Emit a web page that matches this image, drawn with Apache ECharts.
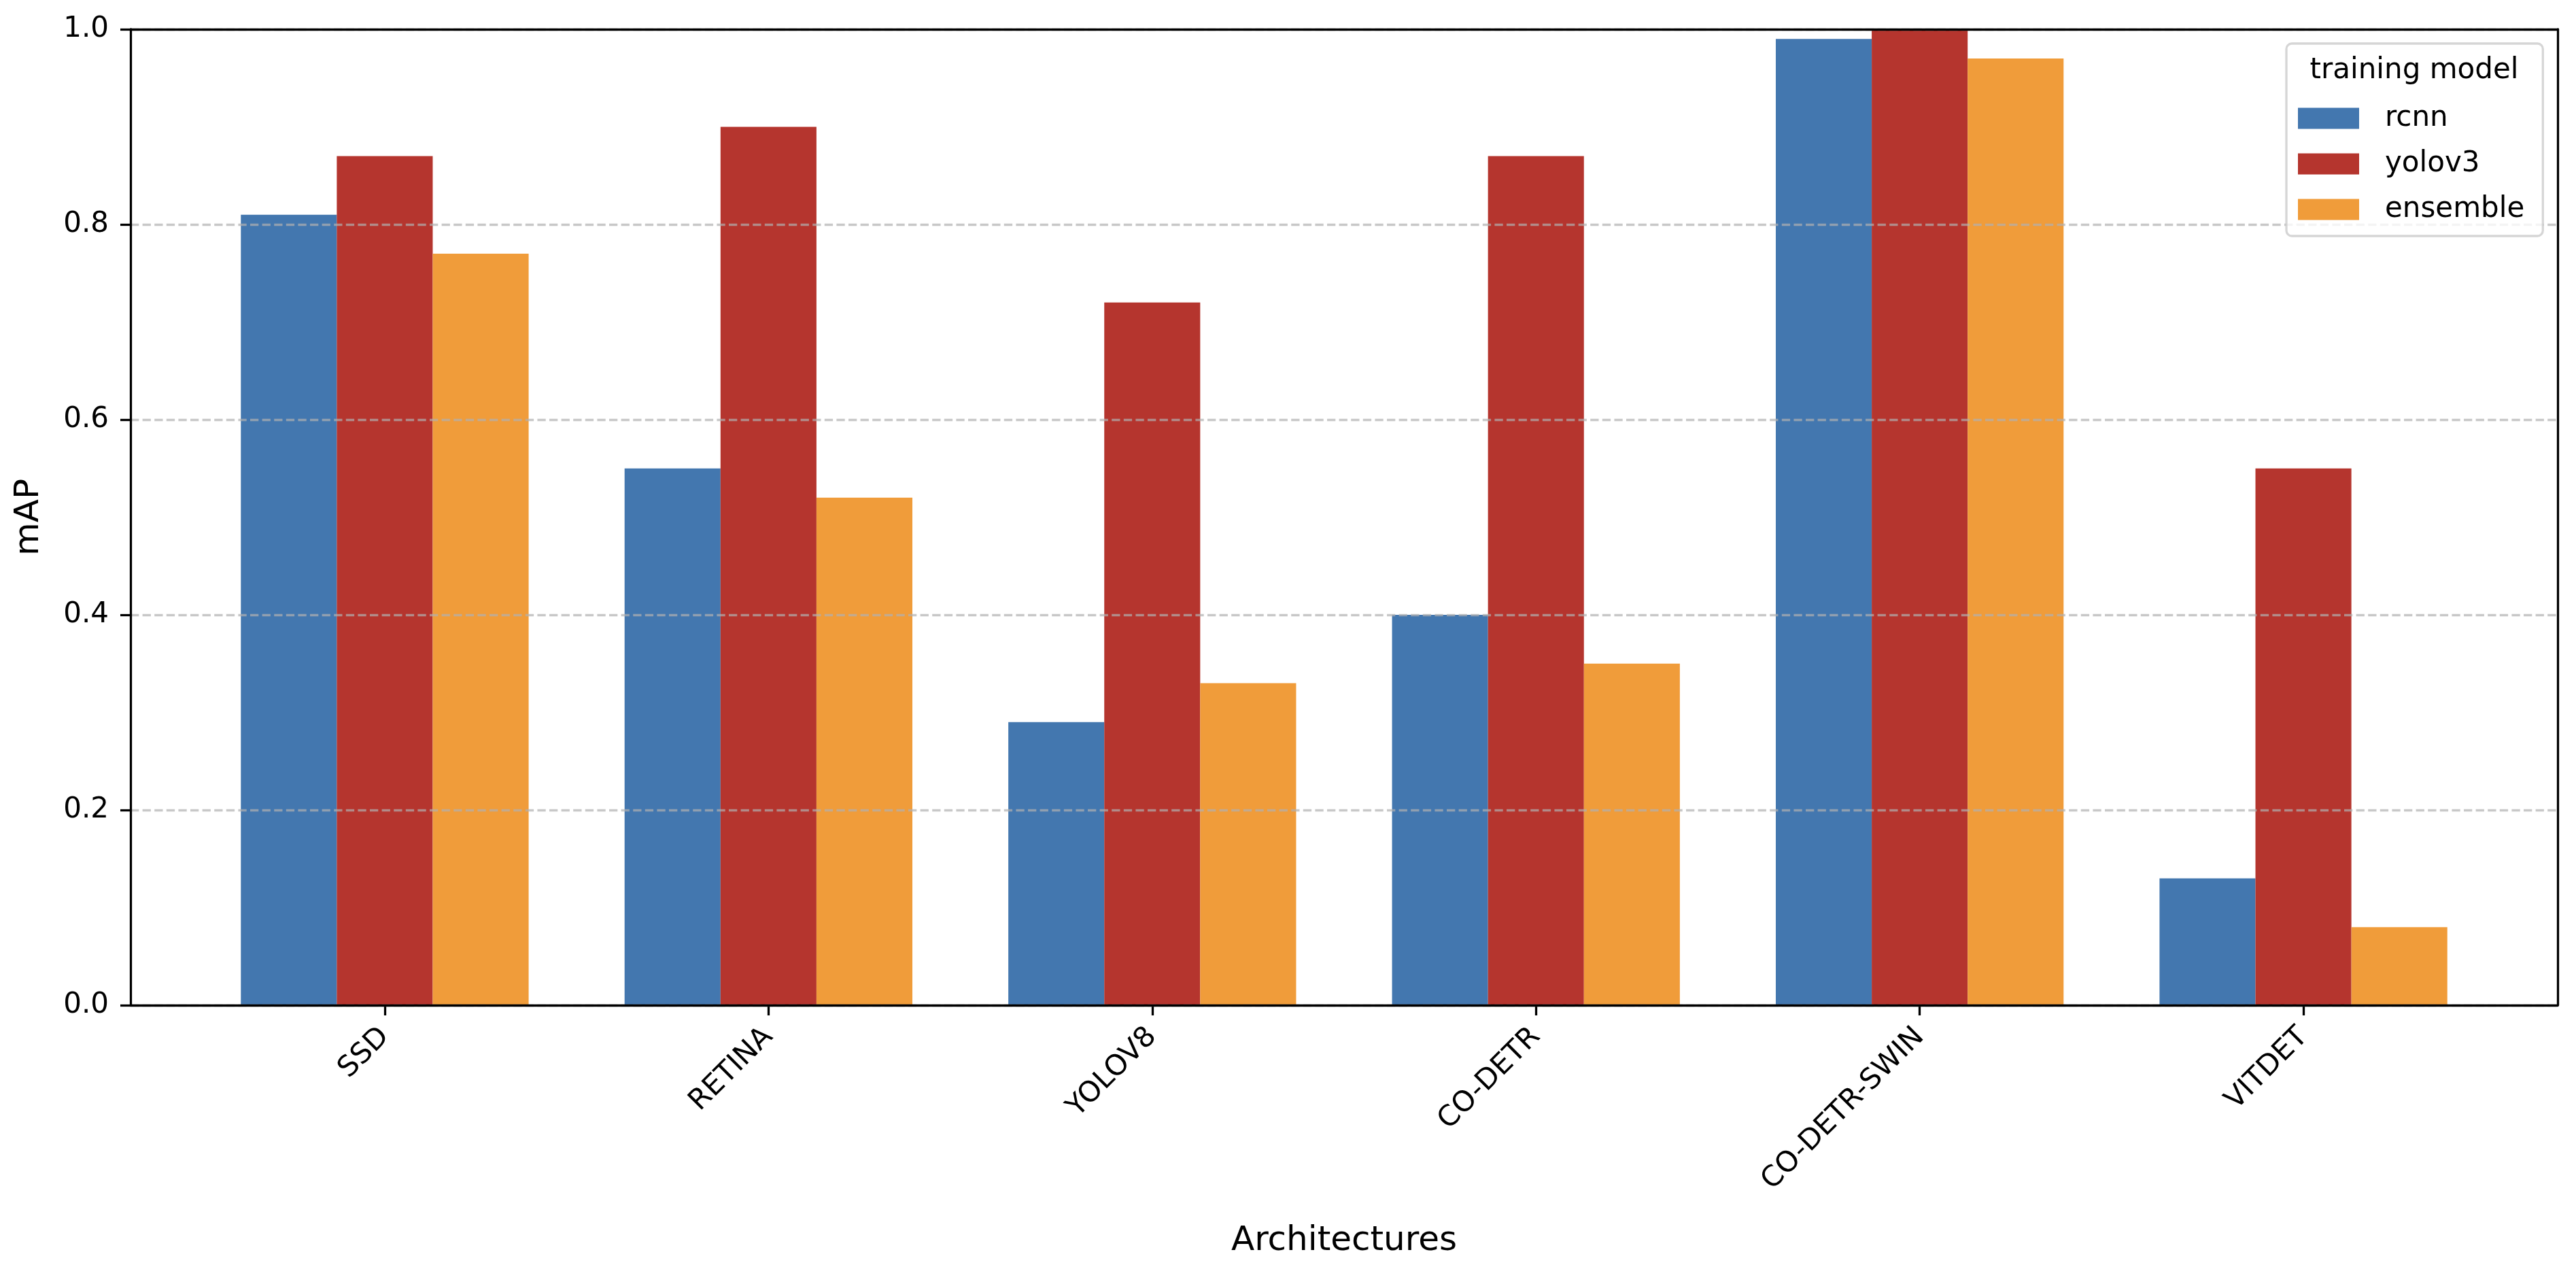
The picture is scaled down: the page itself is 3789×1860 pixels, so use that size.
<!DOCTYPE html>
<html><head><meta charset="utf-8">
<script src="https://cdn.jsdelivr.net/npm/echarts@6/dist/echarts.min.js"></script>
<style>html,body{margin:0;padding:0;background:#fff}#c{width:3789px;height:1860px}</style>
</head><body><div id="c"></div>
<script>
// ---- data ----
const categories = ['SSD', 'RETINA', 'YOLOV8', 'CO-DETR', 'CO-DETR-SWIN', 'VITDET'];
const rcnn = [0.81, 0.55, 0.29, 0.40, 0.99, 0.13];
const yolov3 = [0.87, 0.90, 0.72, 0.87, 1.00, 0.55];
const ensemble = [0.77, 0.52, 0.33, 0.35, 0.97, 0.08];
const seriesNames = ['rcnn', 'yolov3', 'ensemble'];
const yMin = 0, yMax = 1, yStep = 0.2;

// ---- style / layout ----
const colors = ['#4377AF', '#B5352E', '#F09C3A'];
const FONT = 'DejaVu Sans';
const W = 3789, H = 1860;
const L = 192, R = 3762, T = 43, B = 1478;
const unit = (R - L) / 6.325;           // matplotlib x-limits: -0.6625 .. 5.6625
const barLeft = L + 0.1625 * unit;
const barRight = W - (L + 6.1625 * unit);
const spineW = 3.3;

const chart = echarts.init(document.getElementById('c'), null, {renderer: 'canvas'});
const data = [rcnn, yolov3, ensemble];

const option = {
  backgroundColor: '#ffffff',
  animation: false,
  textStyle: {fontFamily: FONT},
  grid: [
    {left: barLeft, right: barRight, top: T, bottom: H - B, containLabel: false, outerBoundsMode: 'none'},
    {left: L, right: W - R, top: T, bottom: H - B, containLabel: false, outerBoundsMode: 'none'}
  ],
  xAxis: [
    {
      type: 'category', gridIndex: 0, data: categories,
      axisLine: {show: false},
      axisTick: {show: true, alignWithLabel: true, length: 15, lineStyle: {color: '#000', width: spineW}},
      axisLabel: {show: true, interval: 0, rotate: 45, margin: 40, fontSize: 42, color: '#000', fontFamily: FONT},
      splitLine: {show: false}
    },
    {
      type: 'value', gridIndex: 1, min: 0, max: 1, z: 6,
      axisLine: {show: true, onZero: false, lineStyle: {color: '#000', width: spineW}},
      axisTick: {show: false}, axisLabel: {show: false}, splitLine: {show: false},
      name: 'Architectures', nameLocation: 'middle', nameGap: 322,
      nameTextStyle: {fontSize: 50, color: '#000', fontFamily: FONT}
    },
    {
      type: 'value', gridIndex: 1, min: 0, max: 1, position: 'top', z: 6,
      axisLine: {show: true, onZero: false, lineStyle: {color: '#000', width: spineW}},
      axisTick: {show: false}, axisLabel: {show: false}, splitLine: {show: false}
    }
  ],
  yAxis: [
    {type: 'value', gridIndex: 0, min: yMin, max: yMax, show: false, splitLine: {show: false}},
    {
      type: 'value', gridIndex: 1, min: yMin, max: yMax, interval: yStep, z: 5,
      axisLine: {show: true, onZero: false, lineStyle: {color: '#000', width: spineW}},
      axisTick: {show: true, length: 15, lineStyle: {color: '#000', width: spineW}},
      axisLabel: {show: true, margin: 32, fontSize: 42, color: '#000', fontFamily: FONT,
        formatter: v => v.toFixed(1)},
      splitLine: {show: true, lineStyle: {color: 'rgba(176,176,176,0.7)', width: 3.3, type: [12.3, 5.3]}},
      name: 'mAP', nameLocation: 'middle', nameGap: 124, nameRotate: 90,
      nameTextStyle: {fontSize: 50, color: '#000', fontFamily: FONT}
    },
    {
      type: 'value', gridIndex: 1, min: yMin, max: yMax, position: 'right', z: 6,
      axisLine: {show: true, onZero: false, lineStyle: {color: '#000', width: spineW}},
      axisTick: {show: false}, axisLabel: {show: false}, splitLine: {show: false}
    }
  ],
  legend: {
    data: seriesNames,
    orient: 'vertical', left: 3363, top: 64,
    padding: [89, 27, 18, 17],
    itemWidth: 90, itemHeight: 31, itemGap: 25,
    icon: 'rect', selectedMode: false,
    backgroundColor: 'rgba(255,255,255,0.8)',
    borderColor: 'rgba(204,204,204,0.8)', borderWidth: 3.3, borderRadius: 8,
    textStyle: {fontSize: 42, color: '#000', fontFamily: FONT, padding: [0, 0, 0, 33]},
    z: 20
  },
  graphic: [{
    type: 'text', z: 100,
    style: {text: 'training model', x: 3551, y: 104, align: 'center', verticalAlign: 'middle',
      fontSize: 42, fontFamily: FONT, fill: '#000'}
  }],
  series: seriesNames.map((n, i) => ({
    name: n, type: 'bar', xAxisIndex: 0, yAxisIndex: 0,
    data: data[i], barWidth: '25%', barGap: '0%',
    itemStyle: {color: colors[i]}, z: 2
  }))
};
chart.setOption(option);
</script></body></html>
